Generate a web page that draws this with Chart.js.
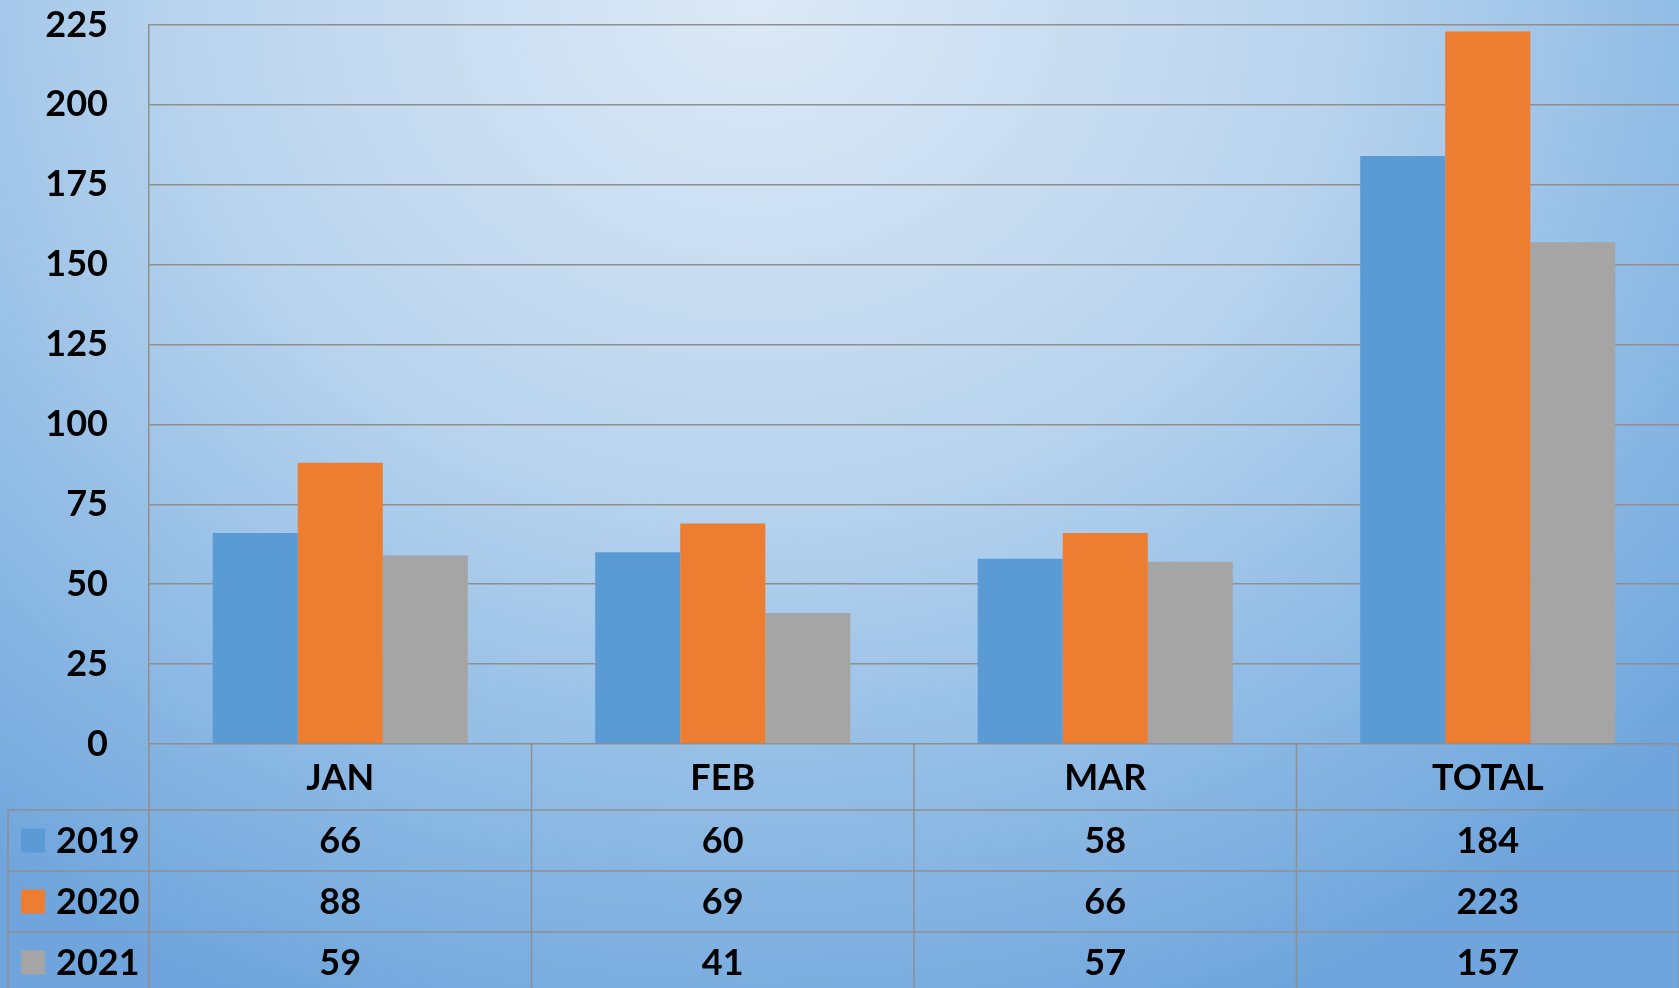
<!DOCTYPE html>
<html>
<head>
<meta charset="utf-8">
<script src="https://cdn.jsdelivr.net/npm/chart.js@4.4.1/dist/chart.umd.min.js"></script>
<style>
    html, body { margin: 0; padding: 0; }
    #wrap {
        width: 1679px;
        height: 988px;
        background: radial-gradient(ellipse 75% 110% at 45% 0%, #dde9f6 0%, #b9d4ee 45%, #8fbbe5 75%, #6fa5dc 100%);
    }
    canvas { display: block; }
</style>
</head>
<body>
<div id="wrap"><canvas id="salesChart" width="1679" height="988"></canvas></div>
<script>
// categories and series
const categories = ['JAN', 'FEB', 'MAR', 'TOTAL'];
const seriesNames = ['2019', '2020', '2021'];
const values2019 = [66, 60, 58, 184];
const values2020 = [88, 69, 66, 223];
const values2021 = [59, 41, 57, 157];
const colors = ['#5b9bd5', '#ed7d31', '#a5a5a5'];

const FONT = "Lato, 'Open Sans', sans-serif";
const LINE = '#8f8f8f';

// draws the data table under the plot, using the x scale for columns
const dataTablePlugin = {
    id: 'dataTable',
    afterDraw(chart) {
        const ctx = chart.ctx;
        const x = chart.scales.x;
        const area = chart.chartArea;
        const colW = (x.right - x.left) / categories.length;
        const headerH = 66;
        const rowH = 61;
        const legendLeft = 8;
        const rows = [values2019, values2020, values2021];

        ctx.save();
        ctx.strokeStyle = LINE;
        ctx.lineWidth = 1.5;

        // horizontal lines
        for (let r = 0; r <= rows.length; r++) {
            const yy = area.bottom + headerH + r * rowH;
            ctx.beginPath();
            ctx.moveTo(legendLeft, yy);
            ctx.lineTo(x.right, yy);
            ctx.stroke();
        }
        // vertical lines
        for (let c = 0; c <= categories.length; c++) {
            const xx = x.left + c * colW;
            ctx.beginPath();
            ctx.moveTo(xx, area.bottom);
            ctx.lineTo(xx, chart.height);
            ctx.stroke();
        }
        ctx.beginPath();
        ctx.moveTo(legendLeft, area.bottom + headerH);
        ctx.lineTo(legendLeft, chart.height);
        ctx.stroke();

        ctx.fillStyle = '#000';
        ctx.font = 'bold 36px ' + FONT;
        ctx.textAlign = 'center';
        ctx.textBaseline = 'middle';

        // header
        categories.forEach((cat, i) => {
            ctx.fillText(cat, x.getPixelForValue(i), area.bottom + headerH / 2 + 1);
        });

        // rows
        rows.forEach((row, r) => {
            const cy = area.bottom + headerH + r * rowH + rowH / 2;
            row.forEach((v, i) => {
                ctx.fillText(String(v), x.getPixelForValue(i), cy + 1);
            });
            ctx.fillStyle = colors[r];
            ctx.fillRect(21, cy - 12, 24, 24);
            ctx.fillStyle = '#000';
            ctx.textAlign = 'left';
            ctx.fillText(seriesNames[r], 56, cy + 1);
            ctx.textAlign = 'center';
        });
        ctx.restore();
    }
};

const ctx = document.getElementById('salesChart').getContext('2d');
new Chart(ctx, {
    type: 'bar',
    data: {
        labels: categories,
        datasets: [
            { label: seriesNames[0], data: values2019, backgroundColor: colors[0] },
            { label: seriesNames[1], data: values2020, backgroundColor: colors[1] },
            { label: seriesNames[2], data: values2021, backgroundColor: colors[2] }
        ]
    },
    options: {
        responsive: false,
        animation: false,
        datasets: {
            bar: { categoryPercentage: 0.667, barPercentage: 1.0 }
        },
        layout: {
            padding: { top: 25, right: 0, bottom: 244, left: 0 }
        },
        plugins: {
            legend: { display: false },
            tooltip: { enabled: false }
        },
        scales: {
            x: {
                display: false
            },
            y: {
                min: 0,
                max: 225,
                afterFit: scale => {
                    scale.width = 149;
                    scale.paddingTop = 0;
                    scale.paddingBottom = 0;
                },
                ticks: {
                    stepSize: 25,
                    padding: 41,
                    color: '#000',
                    font: { family: FONT, size: 36, weight: 'bold' }
                },
                grid: {
                    color: LINE,
                    lineWidth: 1.5,
                    drawTicks: false
                },
                border: { color: LINE, width: 1.5 }
            }
        }
    },
    plugins: [dataTablePlugin]
});
</script>
</body>
</html>
